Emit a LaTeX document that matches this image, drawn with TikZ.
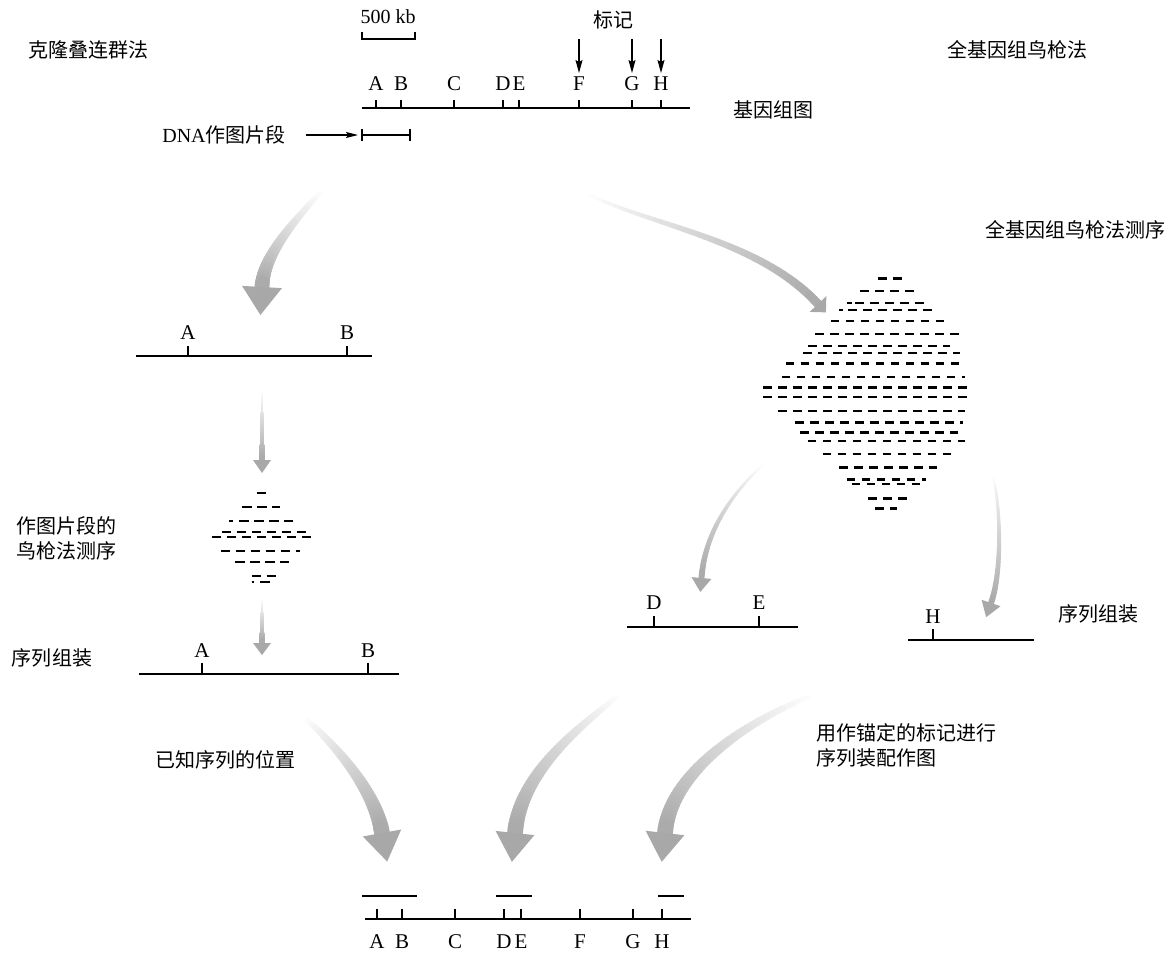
\documentclass[tikz,border=0pt]{standalone}
\usepackage{fontspec}
\setmainfont{Liberation Serif}
\newfontfamily\cjk{Noto Sans CJK SC}
\usetikzlibrary{arrows.meta,calc}
\definecolor{arrgray}{RGB}{168,168,168}
% #1 P0, #2 P1, #3 P2, #4 head base, #5 shaft width, #6 head half width, #7 head length, #8 start shade
\newcommand\gradarrow[8]{%
  \path (#1) .. controls (#2) and (#3) .. (#4)
    \foreach \k [evaluate=\k as \t using \k/40] in {0,...,40}{coordinate[pos=\t] (g\k)};
  \foreach \k [evaluate=\k as \n using {int(\k+1)},
               evaluate=\k as \w using {#5*(0.3+0.7*\k/40)},
               evaluate=\k as \c using {int(#8+(100-#8)*\k/40)}] in {0,...,39}{
    \draw[line width=\w pt, line cap=round, arrgray!\c!white] (g\k) -- (g\n);
  }
  \fill[arrgray] ($(g40)!#6pt!90:(g39)$) -- ($(g40)!-#7pt!(g39)$) -- ($(g40)!#6pt!-90:(g39)$) -- cycle;
}
\begin{document}
\begin{tikzpicture}[x=1pt,y=-1pt,
  lbl/.style={font=\fontsize{21}{24}\selectfont, inner sep=0pt},
  cn/.style={font=\cjk\fontsize{20}{25}\selectfont, inner sep=0pt},
  mainline/.style={line width=2pt},
  tick/.style={line width=1.3pt},
  bigdash/.style={line width=2.4pt, dash pattern=on 8.7pt off 6.3pt},
  smalldash/.style={line width=2pt, dash pattern=on 9.5pt off 5.5pt},
  marker/.style={line width=1.2pt, -{Stealth[length=13pt,width=7pt,inset=2pt]}}]
\useasboundingbox (0,0) rectangle (1174,953);
\fill[white] (0,0) rectangle (1174,953);

% ---------- headings ----------
\node[cn] (clone) at (88,50) {克隆叠连群法};
\node[cn] (wgs) at (1017,50) {全基因组鸟枪法};
\node[lbl, font=\fontsize{20}{24}\selectfont] (scale) at (388,17) {500 kb};
\node[cn] (mk) at (613,20) {标记};
\node[cn] (gmap) at (773,110) {基因组图};
\node[font=\fontsize{20}{24}\selectfont, inner sep=0pt] (dna) at (224,135) {DNA{\cjk 作图片段}};
\node[cn] (wgsseq) at (1075,230) {全基因组鸟枪法测序};
\node[cn, align=left, anchor=west] (mapseq) at (16,538) {作图片段的\\鸟枪法测序};
\node[cn] (asm1) at (52,658) {序列组装};
\node[cn] (asm2) at (1098,614) {序列组装};
\node[cn] (known) at (225,760) {已知序列的位置};
\node[cn, align=left, anchor=west] (anchor) at (816,745) {用作锚定的标记进行\\序列装配作图};

% ---------- scale bar ----------
\coordinate (sb1) at (362,32); \coordinate (sb2) at (362,39);
\coordinate (sb3) at (415,39); \coordinate (sb4) at (415,32);
\draw[line width=1.2pt] (sb1) -- (sb2) -- (sb3) -- (sb4);

% ---------- top genome map ----------
\coordinate (m1) at (362,108); \coordinate (m2) at (690,108);
\draw[mainline] (m1) -- (m2);
\foreach \n/\x in {A/376,B/401,C/454,D/503,E/519,F/579,G/632,H/661}{
  \coordinate (tt\n) at (\x,100); \coordinate (tb\n) at (\x,108);
  \draw[tick] (tt\n) -- (tb\n);
  \node[lbl] (tl\n) at (\x,84) {\n};
}
\foreach \n/\x in {F/579,G/632,H/661}{
  \coordinate (ma\n) at (\x,39); \coordinate (mb\n) at (\x,73);
  \draw[marker] (ma\n) -- (mb\n);
}

% DNA mapping fragment
\coordinate (f1) at (362,135); \coordinate (f2) at (410,135);
\draw[line width=1.6pt] (f1) -- (f2);
\draw[tick] (362,129) -- (362,141);
\draw[tick] (410,129) -- (410,141);
\coordinate (da) at (306,135); \coordinate (db) at (358,135);
\draw[line width=1.2pt, -{Stealth[length=12pt,width=6pt,inset=2pt]}] (da) -- (db);

% ---------- left column ----------
\coordinate (l1a) at (136,356); \coordinate (l1b) at (372,356);
\draw[mainline] (l1a) -- (l1b);
\draw[tick] (188,346) -- (188,356); \node[lbl] (l1A) at (188,333) {A};
\draw[tick] (347,346) -- (347,356); \node[lbl] (l1B) at (347,333) {B};

\coordinate (l2a) at (139,674); \coordinate (l2b) at (399,674);
\draw[mainline] (l2a) -- (l2b);
\draw[tick] (202,663) -- (202,674); \node[lbl] (l2A) at (202,651) {A};
\draw[tick] (368,663) -- (368,674); \node[lbl] (l2B) at (368,651) {B};

% small shotgun diamond
\foreach \y/\a/\b in {493.3/256.7/266, 506.7/242/280, 520.7/239/293, 532.3/221.7/306,
  537.3/211.7/311, 551/220.7/300, 561.7/235/289.3, 576/251.7/276, 581.7/260/270}{
  \draw[smalldash] (\a,\y) -- (\b,\y);
}
\draw[line width=2pt] (229.3,520.7) -- (233.3,520.7);
\draw[line width=2pt] (251.7,581.7) -- (254.3,581.7);

% ---------- right diamond ----------
\foreach \y/\a/\b in {278.3/878.3/902, 290.7/860/914, 302.7/855/926, 310/848.3/933,
  321/830.7/945, 334/815/959, 346/808.3/950, 352.7/803.3/960, 363.3/785.7/962,
  376.7/781.7/965, 387.3/763.3/968, 396.7/763.3/968, 411/778.3/965, 422.3/795/963,
  432.3/800/958, 441/807.7/965, 454/822.7/952, 467.3/839.3/937, 479.3/846.7/926,
  484/851.7/922, 498.3/868.3/909, 508.3/875/897}{
  \draw[bigdash] (\a,\y) -- (\b,\y);
}
\draw[line width=2.4pt] (846.7,302.7) -- (851.7,302.7);
\draw[line width=2.4pt] (839.3,310) -- (843.3,310);

% D-E contig and H contig
\coordinate (de1) at (627,627); \coordinate (de2) at (798,627);
\draw[mainline] (de1) -- (de2);
\draw[tick] (654,616) -- (654,627); \node[lbl] (cD) at (654,603) {D};
\draw[tick] (759,616) -- (759,627); \node[lbl] (cE) at (759,603) {E};
\coordinate (h1) at (908,640); \coordinate (h2) at (1034,640);
\draw[mainline] (h1) -- (h2);
\draw[tick] (933,629) -- (933,640); \node[lbl] (cH) at (933,617) {H};

% ---------- bottom map ----------
\coordinate (b1) at (365,919); \coordinate (b2) at (691,919);
\draw[mainline] (b1) -- (b2);
\foreach \n/\x in {A/377,B/402,C/455,D/504,E/521,F/580,G/633,H/662}{
  \draw[tick] (\x,909) -- (\x,919);
  \node[lbl] (bl\n) at (\x,942) {\n};
}
\draw[mainline] (362,896) -- (417,896);
\draw[mainline] (496,896) -- (532,896);
\draw[mainline] (658,896) -- (684,896);

% ---------- gradient arrows ----------
\gradarrow{320,193}{290,225}{263,258}{262,287}{15}{20}{28}{3}
\gradarrow{590,195}{650,225}{760,240}{818,304}{9}{11.5}{11.5}{3}
\gradarrow{262,393}{262,415}{262,440}{262,460}{6}{9}{13}{5}
\gradarrow{262,600}{262,615}{262,630}{262,643}{6}{9}{12}{5}
\gradarrow{763,465}{735,490}{705,530}{701.5,578}{6}{10}{14}{3}
\gradarrow{993,478}{1000,500}{1003,570}{991,603}{6}{10}{15}{3}
\gradarrow{307,720}{335,745}{375,790}{382,833}{16}{19.5}{29}{3}
\gradarrow{617,697}{575,730}{520,775}{515,833}{16}{19.5}{29}{3}
\gradarrow{808,697}{740,725}{670,775}{665,833}{16}{19.5}{29}{3}
\end{tikzpicture}
\end{document}
